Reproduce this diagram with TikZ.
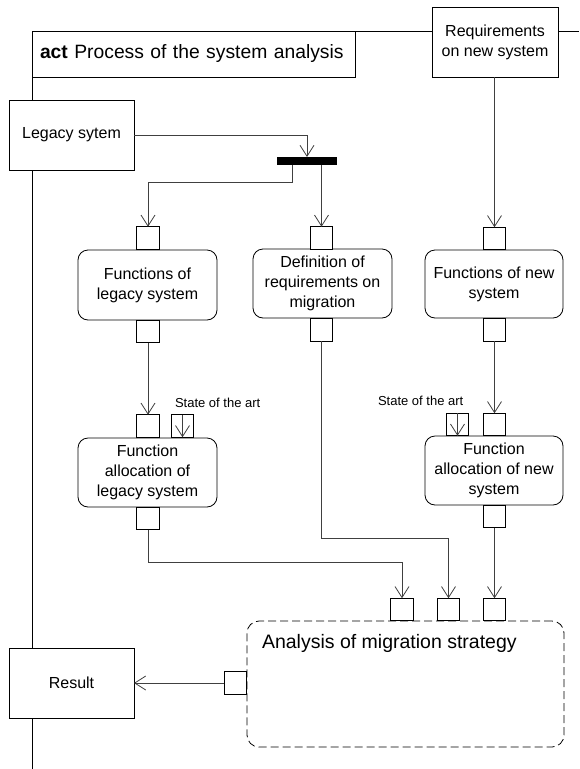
\documentclass[tikz,border=0pt]{standalone}
\usepackage{fontspec}
\setmainfont{Liberation Sans}
\usetikzlibrary{arrows.meta,calc}
\begin{document}
\begin{tikzpicture}[x=1pt,y=-1pt,
  every node/.style={inner sep=0pt, outer sep=0pt},
  obj/.style={draw=black, fill=white, line width=0.8pt, font=\fontsize{16}{20}\selectfont, align=center},
  actbox/.style={obj, rounded corners=10pt},
  pinbox/.style={draw=black, fill=white, line width=0.8pt, minimum width=22.5pt, minimum height=22.5pt},
  flow/.style={draw=black!75, line width=0.8pt, -{Straight Barb[length=11pt,width=14pt]}},
  small/.style={font=\fontsize{13}{15}\selectfont, anchor=west},
]
\useasboundingbox (0,0) rectangle (579,769);
% frame
\draw[line width=0.8pt] (32,769) -- (32,31) -- (579,31);
\node[draw=black, fill=white, line width=0.8pt, minimum width=323pt, minimum height=46pt,
      text width=307pt, align=left, anchor=north west, font=\fontsize{19.3}{23}\selectfont]
      (title) at (32,31) {\mbox{\textbf{act} Process of the system analysis}};
% objects
\node[obj, minimum width=126pt, minimum height=70pt] (req) at (495,42) {Requirements\\on new system};
\node[obj, minimum width=125pt, minimum height=70pt] (leg) at (71.5,135) {Legacy sytem};
\node[obj, minimum width=125pt, minimum height=70pt] (res) at (71.5,683) {Result};
% fork bar
\node[fill=black, minimum width=60pt, minimum height=8pt] (bar) at (307,161) {};
% actions
\node[actbox, minimum width=139pt, minimum height=70pt] (fl) at (147.5,285) {Functions of\\legacy system};
\node[actbox, minimum width=139pt, minimum height=69pt] (def) at (322.5,283.5) {Definition of\\requirements on\\migration};
\node[actbox, minimum width=138pt, minimum height=68pt] (fn) at (494,284) {Functions of new\\system};
\node[actbox, minimum width=139pt, minimum height=69pt] (al) at (147.5,472.5) {Function\\allocation of\\legacy system};
\node[actbox, minimum width=138pt, minimum height=69pt] (an) at (494,470.5) {Function\\allocation of new\\system};
\node[draw=black, line width=0.8pt, dash pattern=on 8pt off 4pt, rounded corners=12pt,
      minimum width=317pt, minimum height=126pt] (ana) at (405.5,684) {};
\node[anchor=west, font=\fontsize{19.5}{23}\selectfont] (anatext) at (262,643) {Analysis of migration strategy};
% pins
\node[pinbox] (p1) at (148,238) {};
\node[pinbox] (p2) at (148,331.5) {};
\node[pinbox] (d1) at (321.5,238) {};
\node[pinbox] (d2) at (321.5,330) {};
\node[pinbox] (n1) at (494.5,238.5) {};
\node[pinbox] (n2) at (494.5,330) {};
\node[pinbox] (p3) at (148,426) {};
\node[pinbox] (s1) at (182.5,426) {};
\node[pinbox] (n3) at (494.5,424.5) {};
\node[pinbox] (s2) at (457.5,424.5) {};
\node[pinbox] (p4) at (148,518.5) {};
\node[pinbox] (n4) at (494.5,516.5) {};
\node[pinbox] (a1) at (402,609.5) {};
\node[pinbox] (a2) at (448.5,609.5) {};
\node[pinbox] (a3) at (494.5,609.5) {};
\node[pinbox] (a0) at (235.5,683) {};
% labels
\node[small] (sl1) at (175,403) {State of the art};
\node[small] (sl2) at (378,401) {State of the art};
% connectors
\draw[flow] (leg.east) -| (bar.north);
\draw[flow] ([xshift=-15pt]bar.south) -- ++(0,17) -| (p1.north);
\draw[flow] (bar.south -| d1.north) -- (d1.north);
\draw[flow] (req.south -| n1.north) -- (n1.north);
\draw[flow] (p2.south) -- (p3.north);
\draw[flow] (n2.south) -- (n3.north);
\draw[flow] (s1.north) -- (s1.south);
\draw[flow] (s2.north) -- (s2.south);
\draw[flow] (p4.south) -- ++(0,33) -| (a1.north);
\draw[flow] (d2.south) -- ++(0,197.5) -| (a2.north);
\draw[flow] (n4.south) -- (a3.north);
\draw[flow] (a0.west) -- (res.east);
\end{tikzpicture}
\end{document}
